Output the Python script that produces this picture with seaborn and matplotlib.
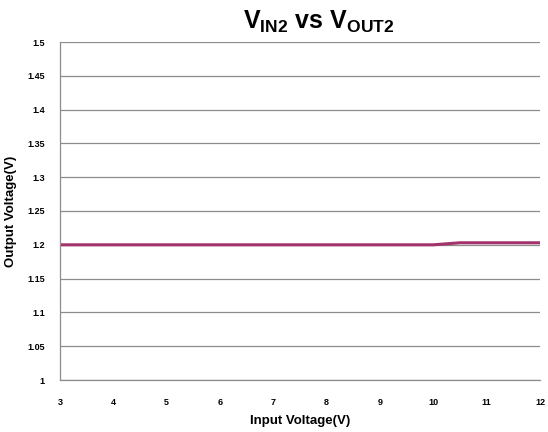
import matplotlib
matplotlib.use("Agg")
import matplotlib.pyplot as plt
import seaborn as sns
import pandas as pd

vin = [3, 3.5, 4, 4.5, 5, 5.5, 6, 6.5, 7, 7.5, 8, 8.5, 9, 9.5, 10, 10.5, 11, 11.5, 12]
vout = [1.2, 1.2, 1.2, 1.2, 1.2, 1.2, 1.2, 1.2, 1.2, 1.2, 1.2, 1.2, 1.2, 1.2, 1.2,
        1.203, 1.203, 1.203, 1.203]
x_ticks = [3, 4, 5, 6, 7, 8, 9, 10, 11, 12]
y_ticks = [1, 1.05, 1.1, 1.15, 1.2, 1.25, 1.3, 1.35, 1.4, 1.45, 1.5]

sns.set_style("white")
plt.rcParams['font.family'] = ['Liberation Sans', 'DejaVu Sans']
plt.rcParams['text.color'] = 'black'
plt.rcParams['axes.labelcolor'] = 'black'
plt.rcParams['xtick.color'] = 'black'
plt.rcParams['ytick.color'] = 'black'
plt.rcParams['mathtext.fontset'] = 'custom'
plt.rcParams['mathtext.rm'] = 'Liberation Sans:bold'
plt.rcParams['mathtext.bf'] = 'Liberation Sans:bold'
plt.rcParams['mathtext.it'] = 'Liberation Sans:bold'

df = pd.DataFrame({'vin': vin, 'vout': vout})

fig = plt.figure(figsize=(5.48, 4.32), dpi=100)
ax = fig.add_axes([60 / 548, 52 / 432, 480 / 548, 338 / 432])
sns.lineplot(data=df, x='vin', y='vout', ax=ax, color='#A3336B', linewidth=2.2)

ax.set_xlim(3, 12)
ax.set_ylim(1, 1.5)
ax.set_xticks(x_ticks)
ax.set_yticks(y_ticks)
ax.set_xticklabels([str(t) for t in x_ticks], fontsize=6.5, fontweight='bold')
ax.set_yticklabels(['1', '1.05', '1.1', '1.15', '1.2', '1.25', '1.3', '1.35', '1.4', '1.45', '1.5'],
                   fontsize=6.5, fontweight='bold')
ax.yaxis.grid(True, color='#8c8c8c', linewidth=0.9)
ax.xaxis.grid(False)
ax.set_axisbelow(True)
for s in ['top', 'right']:
    ax.spines[s].set_visible(False)
for s in ['left', 'bottom']:
    ax.spines[s].set_color('#8c8c8c')
    ax.spines[s].set_linewidth(0.9)
ax.tick_params(axis='both', direction='out', length=3, width=0.8, color='#8c8c8c',
               labelcolor='black', pad=8)
ax.tick_params(axis='x', pad=10)

ax.set_xlabel('Input Voltage(V)', fontsize=9.5, fontweight='bold')
ax.set_ylabel('Output Voltage(V)', fontsize=9.5, fontweight='bold')
ax.xaxis.set_label_coords(0.5, -0.105)
ax.yaxis.set_label_coords(-0.09, 0.5)
fig.text(319 / 548, 1 - 22 / 432, r'$\mathbf{V_{IN2}}$ vs $\mathbf{V_{OUT2}}$',
         ha='center', va='center', fontsize=18, fontweight='bold', color='black')

fig.savefig('out.png', dpi=100)
